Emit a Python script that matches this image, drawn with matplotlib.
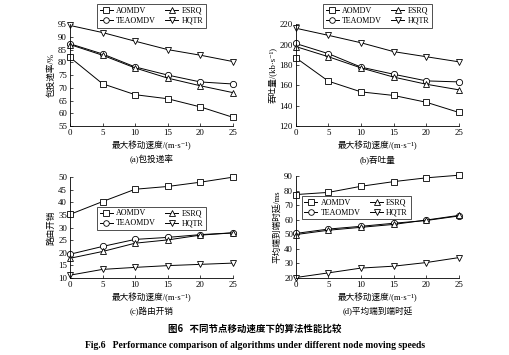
import matplotlib.pyplot as plt
import numpy as np

plt.rcParams['font.family'] = ['Liberation Serif', 'Noto Sans CJK SC', 'DejaVu Sans']

# data
speeds = [0, 5, 10, 15, 20, 25]
algos = ["AOMDV", "TEAOMDV", "ESRQ", "HQTR"]
markers = ["s", "o", "^", "v"]

pdr_aomdv = [82.0, 71.6, 67.3, 65.7, 62.5, 58.4]
pdr_teaomdv = [87.3, 83.3, 78.2, 75.0, 72.3, 71.5]
pdr_esrq = [87.0, 82.8, 77.8, 73.8, 70.8, 68.1]
pdr_hqtr = [94.5, 91.7, 88.3, 85.0, 82.8, 80.3]

thr_aomdv = [187, 164, 153.5, 150, 143.3, 133.3]
thr_teaomdv = [201, 191, 177.8, 170.8, 164.3, 163.3]
thr_esrq = [198, 188, 177, 168, 161, 155.5]
thr_hqtr = [216, 209, 201.7, 193, 188, 183]

ovh_aomdv = [35.2, 40.3, 45.2, 46.3, 48.0, 50.0]
ovh_teaomdv = [19.4, 22.5, 25.3, 26.1, 27.2, 27.9]
ovh_esrq = [17.8, 20.5, 23.8, 25.1, 27.0, 27.9]
ovh_hqtr = [11.1, 13.4, 14.2, 14.9, 15.4, 15.9]

dly_aomdv = [77.3, 78.8, 83.0, 86.2, 88.8, 90.6]
dly_teaomdv = [50.6, 53.6, 55.5, 57.6, 59.5, 62.6]
dly_esrq = [49.8, 52.8, 54.8, 56.8, 59.8, 63.0]
dly_hqtr = [20.3, 23.5, 26.8, 28.1, 30.6, 34.0]

panels = [
    dict(data=[pdr_aomdv, pdr_teaomdv, pdr_esrq, pdr_hqtr], ylim=(55, 95), yticks=np.arange(55, 96, 5),
         ylabel="包投递率/%", caption="(a)包投递率", pos=[0.137, 0.645, 0.320, 0.287],
         leg=(0.50, 1.08)),
    dict(data=[thr_aomdv, thr_teaomdv, thr_esrq, thr_hqtr], ylim=(120, 220), yticks=np.arange(120, 221, 20),
         ylabel="吞吐量/(kb·s⁻¹)", caption="(b)吞吐量", pos=[0.580, 0.645, 0.320, 0.287],
         leg=(0.50, 1.08)),
    dict(data=[ovh_aomdv, ovh_teaomdv, ovh_esrq, ovh_hqtr], ylim=(10, 50), yticks=np.arange(10, 51, 5),
         ylabel="路由开销", caption="(c)路由开销", pos=[0.137, 0.217, 0.320, 0.284],
         leg=(0.50, 0.59)),
    dict(data=[dly_aomdv, dly_teaomdv, dly_esrq, dly_hqtr], ylim=(20, 90), yticks=np.arange(20, 91, 10),
         ylabel="平均端到端时延/ms", caption="(d)平均端到端时延", pos=[0.580, 0.217, 0.320, 0.287],
         leg=(0.37, 0.69)),
]

fig = plt.figure(figsize=(5.1, 3.55), dpi=100)

for p in panels:
    ax = fig.add_axes(p["pos"])
    for vals, name, mk in zip(p["data"], algos, markers):
        ax.plot(speeds, vals, color="black", linewidth=0.7, marker=mk, markersize=4.5,
                markerfacecolor="white", markeredgecolor="black", markeredgewidth=0.6,
                label=name, clip_on=False)
    ax.set_xlim(0, 25)
    ax.set_ylim(*p["ylim"])
    ax.set_xticks(speeds)
    ax.set_yticks(p["yticks"])
    ax.spines["top"].set_visible(False)
    ax.spines["right"].set_visible(False)
    ax.spines["left"].set_linewidth(0.6)
    ax.spines["bottom"].set_linewidth(0.6)
    ax.tick_params(direction="in", length=2, width=0.5, labelsize=6.3, pad=2)
    ax.set_ylabel(p["ylabel"], fontsize=6.2, labelpad=2)
    ax.set_xlabel("最大移动速度/(m·s⁻¹)", fontsize=6.2, labelpad=3)
    ax.text(0.5, -0.33, p["caption"], transform=ax.transAxes, ha="center", va="center", fontsize=6.2)
    leg = ax.legend(ncol=2, loc="center", bbox_to_anchor=p["leg"], fontsize=5.8,
                    frameon=True, fancybox=False, edgecolor="black", handlelength=1.6,
                    handletextpad=0.4, columnspacing=1.2, labelspacing=0.25,
                    borderpad=0.35, markerscale=0.9)
    leg.get_frame().set_linewidth(0.6)

fig.text(0.50, 0.073, "图6   不同节点移动速度下的算法性能比较", ha="center", va="center",
         fontsize=6.8, fontweight="bold", family=["Noto Sans CJK SC", "DejaVu Sans"])
fig.text(0.50, 0.028, "Fig.6   Performance comparison of algorithms under different node moving speeds",
         ha="center", va="center", fontsize=6.9, fontweight="bold")

fig.savefig("out.png", dpi=100, facecolor="white")
